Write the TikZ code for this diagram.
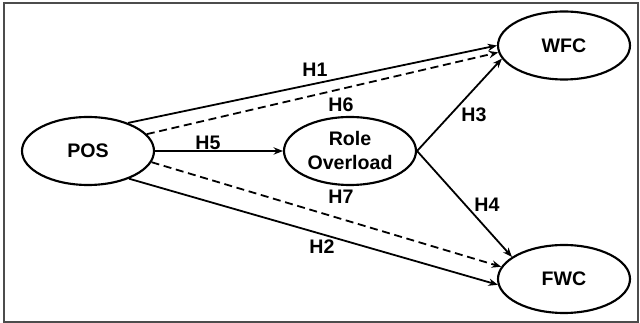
\documentclass[tikz,border=0pt]{standalone}
\usepackage{fontspec}
\setmainfont{Liberation Sans}
\usetikzlibrary{arrows.meta,shapes.geometric}
\begin{document}
\begin{tikzpicture}[x=0.75pt,y=-0.75pt,
  every node/.style={font=\fontsize{14.7}{18}\selectfont\bfseries},
  var/.style={ellipse,draw=black,line width=1.6pt,minimum width=99pt,minimum height=51pt,inner sep=0pt,align=center},
  lbl/.style={inner sep=0pt},
  arr/.style={line width=1.35pt,-{Stealth[length=7pt,width=5.5pt]}},
  darr/.style={arr,dash pattern=on 6pt off 3.5pt}]
\useasboundingbox (0,0) rectangle (640,323);
\draw[line width=0.8pt,draw=black!70] (4,3) rectangle (638,322);
\node[var] (pos) at (88,151) {POS};
\node[var] (ro) at (350,151) {Role\\Overload};
\node[var] (wfc) at (564,45.5) {WFC};
\node[var] (fwc) at (564,279) {FWC};
\draw[arr] (pos.35) -- (wfc.180);
\draw[darr] (pos.16) -- (wfc.186.5);
\draw[arr] (pos.east) -- (ro.west);
\draw[darr] (pos.-10) -- (fwc.169);
\draw[arr] (pos.-34) -- (fwc.185);
\draw[arr] (ro.east) -- (wfc.192.5);
\draw[arr] (ro.east) -- (fwc.157.8);
\node[lbl] (h1) at (315,70) {H1};
\node[lbl] (h6) at (341,105) {H6};
\node[lbl] (h3) at (474,115) {H3};
\node[lbl] (h5) at (208,143) {H5};
\node[lbl] (h7) at (341,197) {H7};
\node[lbl] (h4) at (487,205) {H4};
\node[lbl] (h2) at (322,247) {H2};
\end{tikzpicture}
\end{document}
